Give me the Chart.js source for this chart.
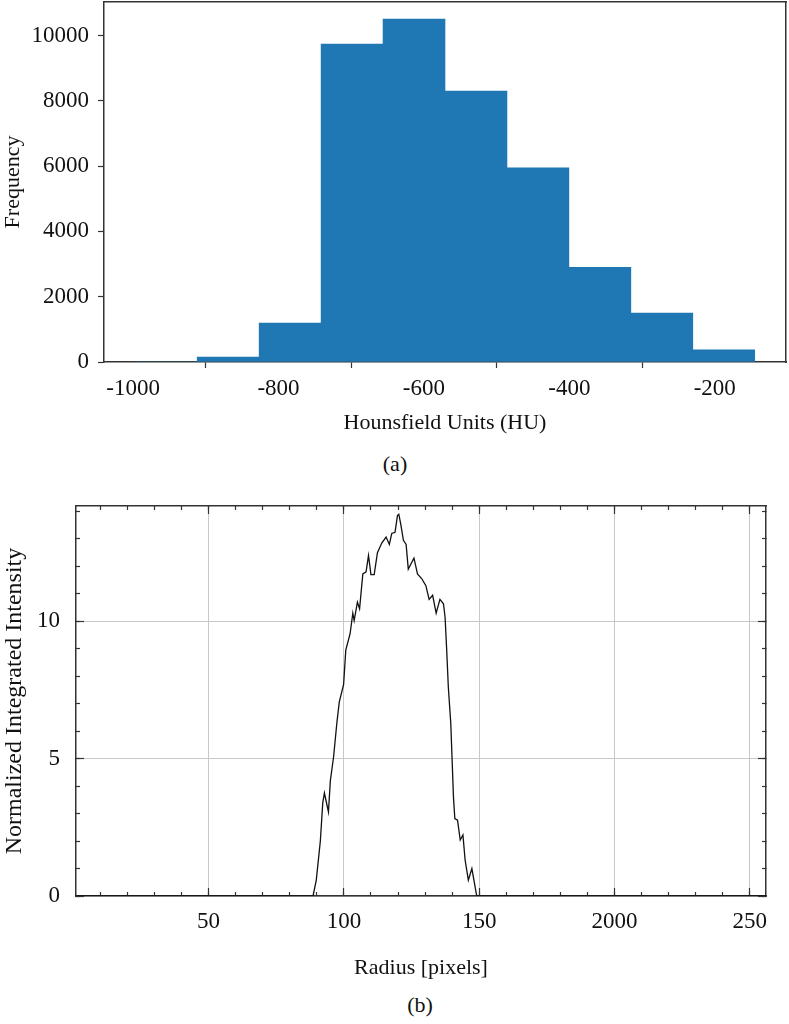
<!DOCTYPE html>
<html>
<head>
<meta charset="utf-8">
<script src="https://cdn.jsdelivr.net/npm/chart.js@4"></script>
<style>
  body { margin: 0; background: #fff; width: 789px; height: 1024px; position: relative; font-family: "Liberation Serif", serif; }
  #histWrap { position: absolute; left: 0; top: 0; width: 789px; height: 440px; }
  #profWrap { position: absolute; left: 0; top: 496px; width: 789px; height: 490px; }
  .caption { position: absolute; font-size: 22px; color: #111; transform: translate(-50%, -50%); }
</style>
</head>
<body>
<div id="histWrap"><canvas id="histChart"></canvas></div>
<div class="caption" style="left:395px; top:464px;">(a)</div>
<div id="profWrap"><canvas id="profChart"></canvas></div>
<div class="caption" style="left:420px; top:1005px;">(b)</div>

<script>
// (a) histogram of Hounsfield units
const binEdges = [-997, -911.8, -826.6, -741.4, -656.2, -571, -485.8, -400.6, -315.4, -230.2, -145];
const binCounts = [0, 150, 1190, 9740, 10500, 8300, 5950, 2900, 1500, 370];
const huTicks = [-1000, -800, -600, -400, -200];
const freqTicks = [0, 2000, 4000, 6000, 8000, 10000];

// (b) radial profile
const radius = [1, 88.6, 89.8, 91.3, 92.2, 92.8, 94.3, 95, 96.2, 97.4,
  98.3, 99.9, 100.7, 102.3, 103.3, 103.8, 105, 105.8, 107, 108.2,
  109.1, 110, 111.2, 112.4, 114, 115.6, 116.8, 117.7, 118.9, 119.8,
  120.3, 121, 122, 123, 123.8, 125.1, 125.9, 127.2, 128.8, 130.3,
  131.5, 132.8, 134.1, 135.5, 136.8, 137.4, 138, 138.6, 139.5, 140,
  140.5, 141, 142, 143, 144, 144.8, 146, 147.3, 149.1, 256];
const intensity = [0, 0, 0.58, 2.0, 3.4, 3.75, 3.06, 4.2, 5.07, 6.3,
  7.07, 7.7, 8.95, 9.55, 10.3, 10.03, 10.7, 10.46, 11.73, 11.8,
  12.4, 11.7, 11.7, 12.5, 12.85, 13.07, 12.8, 13.2, 13.24, 13.85,
  13.9, 13.55, 12.95, 12.8, 11.9, 12.15, 12.3, 11.73, 11.55, 11.3,
  10.8, 10.95, 10.3, 10.8, 10.64, 10.15, 8.95, 7.6, 6.3, 4.95,
  3.6, 2.82, 2.76, 2.04, 2.22, 1.31, 0.58, 1.0, 0, 0];
const radiusTickValues = [50, 100, 150, 200, 250];
const radiusTickLabels = ['50', '100', '150', '2000', '250'];
const intensityTickValues = [0, 5, 10];
const intensityTickLabels = ['0', '5', '10'];

Chart.defaults.font.family = '"Liberation Serif", "Times New Roman", serif';
Chart.defaults.font.size = 22;
Chart.defaults.color = '#111';
Chart.defaults.animation = false;

const axisColor = '#333';
const tickFont = { size: 23 };

// fix an axis box size and drop the label overhang padding chart.js adds
function fixSize(size) {
    return (s) => {
        if (s.isHorizontal()) s.height = size; else s.width = size;
        s.paddingTop = 0; s.paddingBottom = 0; s.paddingLeft = 0; s.paddingRight = 0;
    };
}

// ---------- chart (a) ----------
const histData = [];
for (let i = 0; i < binCounts.length; i++) {
    histData.push({ x: (binEdges[i] + binEdges[i + 1]) / 2, y: binCounts[i] });
}

new Chart(document.getElementById('histChart').getContext('2d'), {
    type: 'bar',
    data: {
        datasets: [{
            data: histData,
            backgroundColor: '#1f77b4',
            borderWidth: 0,
            barPercentage: 1,
            categoryPercentage: 1
        }]
    },
    options: {
        responsive: true,
        maintainAspectRatio: false,
        layout: { padding: { top: 2, right: 3, bottom: 4, left: 0 } },
        plugins: { legend: { display: false }, tooltip: { enabled: false } },
        scales: {
            x: {
                type: 'linear',
                min: -1040,
                max: -102,
                offset: false,
                afterBuildTicks: (s) => { s.ticks = huTicks.map(v => ({ value: v })); },
                ticks: { font: tickFont, padding: 7, autoSkip: false, maxRotation: 0, callback: (v) => String(v) },
                grid: { drawOnChartArea: false, tickLength: 6, tickColor: axisColor, tickWidth: 1.2 },
                border: { display: true, color: axisColor, width: 1.5 },
                title: { display: true, text: 'Hounsfield Units (HU)', padding: 0 },
                afterFit: fixSize(74)
            },
            y: {
                min: 0,
                max: 11025,
                afterBuildTicks: (s) => { s.ticks = freqTicks.map(v => ({ value: v })); },
                ticks: { font: tickFont, padding: 9, callback: (v) => String(v) },
                grid: { drawOnChartArea: false, tickLength: 6, tickColor: axisColor, tickWidth: 1.2 },
                border: { display: true, color: axisColor, width: 1.5 },
                title: { display: true, text: 'Frequency', padding: 0 },
                afterFit: fixSize(104)
            },
            xTop: {
                type: 'linear', position: 'top', min: -1040, max: -102,
                ticks: { display: false }, grid: { display: false },
                border: { display: true, color: axisColor, width: 1.5 },
                afterFit: fixSize(0)
            },
            yRight: {
                position: 'right', min: 0, max: 11025,
                ticks: { display: false }, grid: { display: false },
                border: { display: true, color: axisColor, width: 1.5 },
                afterFit: fixSize(0)
            }
        }
    }
});

// ---------- chart (b) ----------
const profData = radius.map((r, i) => ({ x: r, y: intensity[i] }));

function radiusLabel(v) {
    const k = radiusTickValues.indexOf(v);
    return k >= 0 ? radiusTickLabels[k] : '';
}
function intensityLabel(v) {
    const k = intensityTickValues.indexOf(v);
    return k >= 0 ? intensityTickLabels[k] : '';
}

const xMin = 1, xMax = 256, yMin = 0, yMax = 14.2;
const gridGray = '#c8c8c8';

// minor tick axis (inward ticks, no grid)
function minorAxis(pos, min, max, step, extra) {
    return Object.assign({
        type: 'linear', position: pos, min: min, max: max,
        ticks: { display: false, stepSize: step, includeBounds: false, autoSkip: false },
        grid: { drawOnChartArea: false, tickLength: -4, tickColor: axisColor, tickWidth: 1.2 },
        border: { display: true, color: axisColor, width: 1.5 },
        afterFit: fixSize(0)
    }, extra || {});
}
// major tick axis (longer inward ticks + grid lines)
function majorAxis(pos, min, max, step, drawGrid) {
    return {
        type: 'linear', position: pos, min: min, max: max, weight: 0,
        ticks: { display: false, stepSize: step, includeBounds: false, autoSkip: false },
        grid: { drawOnChartArea: drawGrid, color: gridGray, lineWidth: 1, tickLength: -8, tickColor: axisColor, tickWidth: 1.2 },
        border: { display: false },
        afterFit: fixSize(0)
    };
}

new Chart(document.getElementById('profChart').getContext('2d'), {
    type: 'line',
    data: {
        datasets: [{
            data: profData,
            borderColor: '#111',
            borderWidth: 1.3,
            pointRadius: 0,
            tension: 0,
            fill: false
        }]
    },
    options: {
        responsive: true,
        maintainAspectRatio: false,
        layout: { padding: { top: 10, right: 23, bottom: 5, left: 0 } },
        plugins: { legend: { display: false }, tooltip: { enabled: false } },
        scales: {
            x: minorAxis('bottom', xMin, xMax, 10, {
                weight: 1,
                ticks: { display: true, font: tickFont, stepSize: 10, includeBounds: false, autoSkip: false, maxRotation: 0, padding: 16, callback: radiusLabel },
                title: { display: true, text: 'Radius [pixels]', padding: 0 },
                afterFit: fixSize(85)
            }),
            xMajor: majorAxis('bottom', xMin, xMax, 50, true),
            xTop: minorAxis('top', xMin, xMax, 10),
            xTopMajor: majorAxis('top', xMin, xMax, 50, false),
            y: minorAxis('left', yMin, yMax, 1, {
                weight: 1,
                ticks: { display: true, font: tickFont, stepSize: 1, includeBounds: false, autoSkip: false, padding: 20, callback: intensityLabel },
                title: { display: true, text: 'Normalized Integrated Intensity', padding: 0, font: { size: 24 } },
                afterFit: fixSize(76)
            }),
            yMajor: majorAxis('left', yMin, yMax, 5, true),
            yRight: minorAxis('right', yMin, yMax, 1),
            yRightMajor: majorAxis('right', yMin, yMax, 5, false)
        }
    }
});
</script>
</body>
</html>
